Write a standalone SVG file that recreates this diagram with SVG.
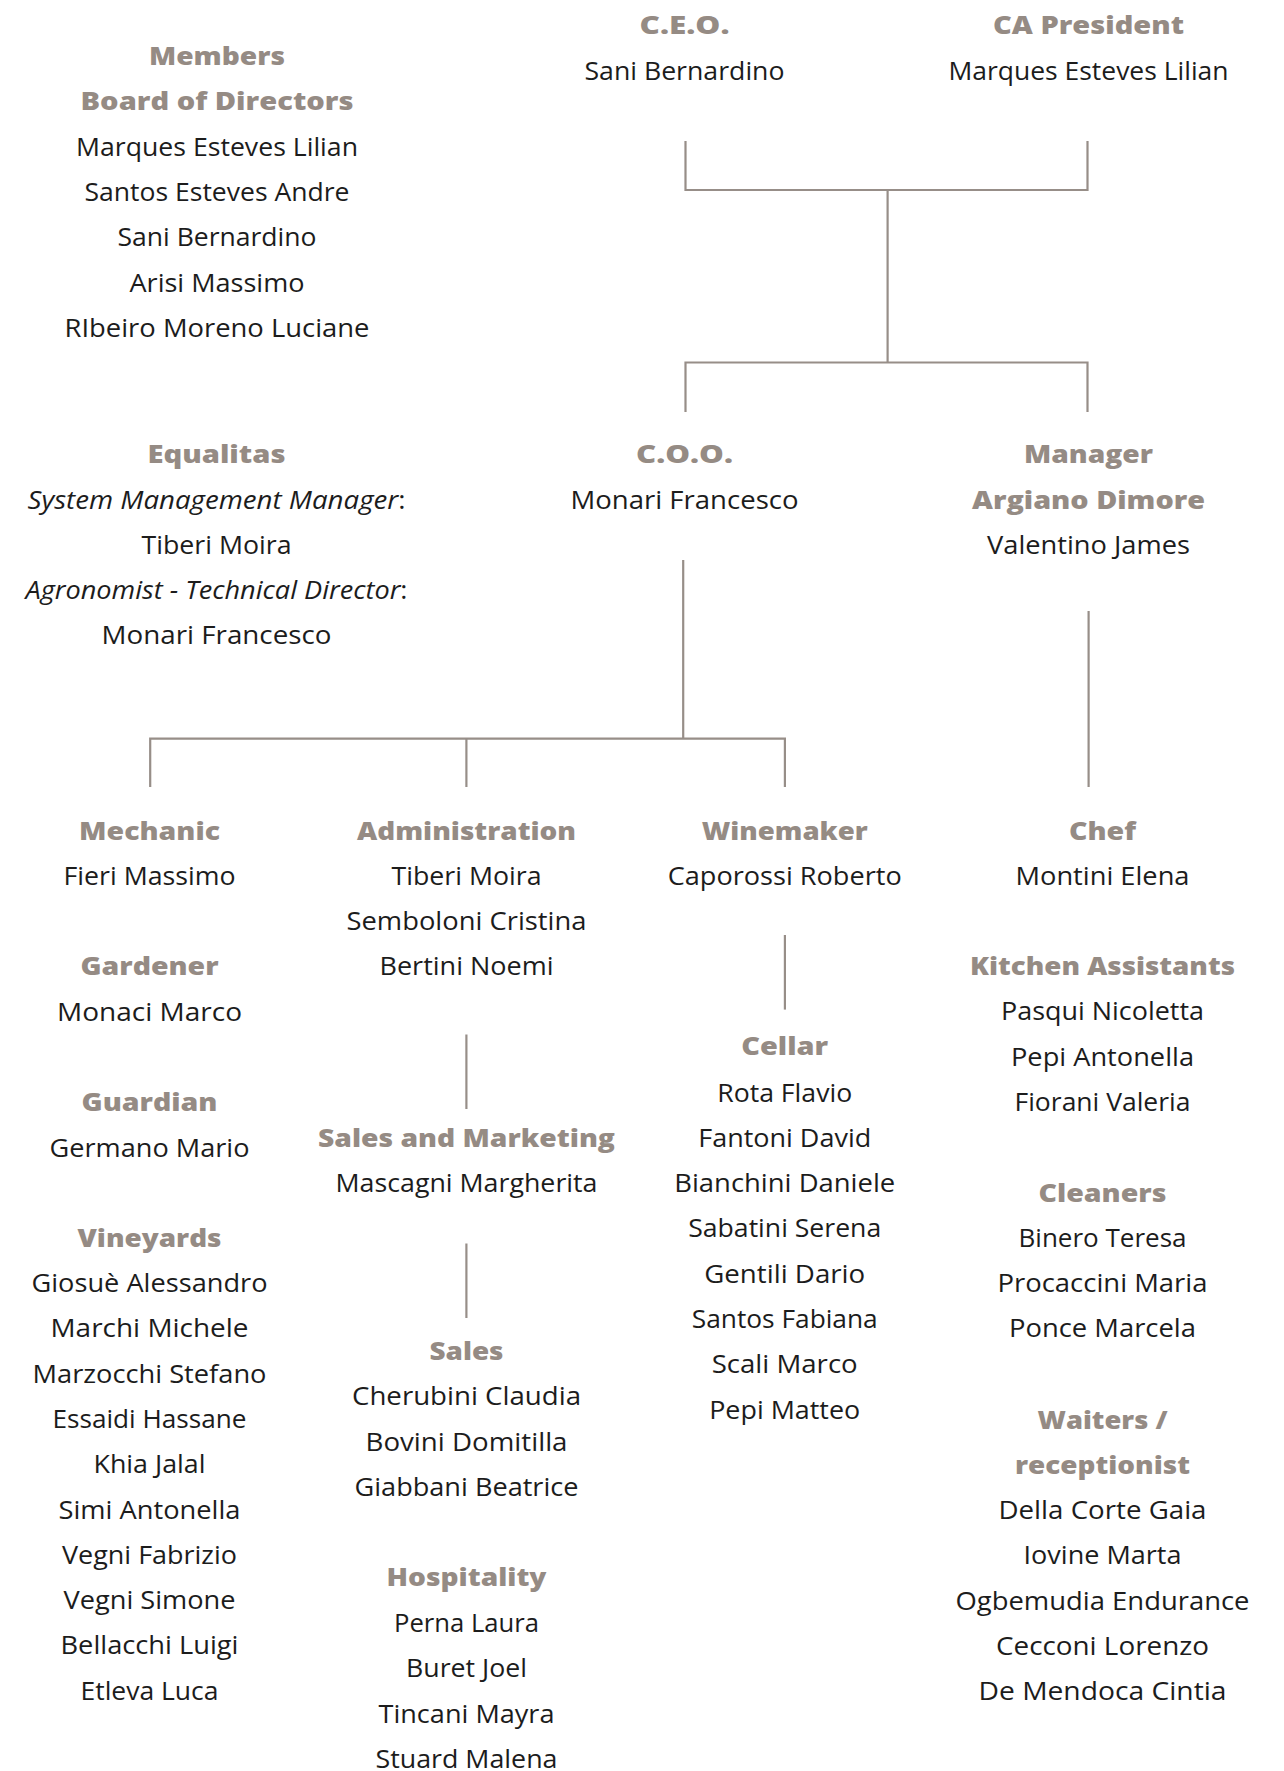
<svg xmlns="http://www.w3.org/2000/svg" width="1284" height="1771" viewBox="0 0 1284 1771">
<style>
.t{font-family:"Open Sans","Liberation Sans",sans-serif;font-size:25.5px;font-weight:800;fill:#958b84;text-anchor:middle}
.n{font-family:"Open Sans","Liberation Sans",sans-serif;font-size:25px;font-weight:400;fill:#1c1c1c;text-anchor:middle}
.i{font-style:italic}
.c{stroke:#978e88;stroke-width:2.2;fill:none}
</style>
<rect width="1284" height="1771" fill="#ffffff"/>
<g id="connectors" class="c">
<path d="M685.5,141V190H1087.5V141"/>
<path d="M887.6,190V362.5"/>
<path d="M685.5,412V362.5H1087.5V412"/>
<path d="M683.2,560V738.6"/>
<path d="M150.2,787V738.6H784.9V787"/>
<path d="M466.4,738.6V787"/>
<path d="M1088.6,611V787"/>
<path d="M466.4,1034.5V1109"/>
<path d="M466.4,1243.5V1318"/>
<path d="M784.9,935V1009.6"/>
</g>
<g id="board" transform="translate(217,0)">
<text class="t" x="0" y="65" textLength="136" lengthAdjust="spacingAndGlyphs">Members</text>
<text class="t" x="0" y="110" textLength="273" lengthAdjust="spacingAndGlyphs">Board of Directors</text>
<text class="n" x="0" y="156" textLength="282" lengthAdjust="spacingAndGlyphs">Marques Esteves Lilian</text>
<text class="n" x="0" y="201" textLength="265" lengthAdjust="spacingAndGlyphs">Santos Esteves Andre</text>
<text class="n" x="0" y="246" textLength="199" lengthAdjust="spacingAndGlyphs">Sani Bernardino</text>
<text class="n" x="0" y="291.5" textLength="175" lengthAdjust="spacingAndGlyphs">Arisi Massimo</text>
<text class="n" x="0" y="336.5" textLength="305" lengthAdjust="spacingAndGlyphs">RIbeiro Moreno Luciane</text>
</g>
<g id="ceo" transform="translate(684.5,0)">
<text class="t" x="0" y="34" textLength="90" lengthAdjust="spacingAndGlyphs">C.E.O.</text>
<text class="n" x="0" y="80" textLength="200" lengthAdjust="spacingAndGlyphs">Sani Bernardino</text>
</g>
<g id="ca-president" transform="translate(1088.5,0)">
<text class="t" x="0" y="33.5" textLength="191" lengthAdjust="spacingAndGlyphs">CA President</text>
<text class="n" x="0" y="80" textLength="280" lengthAdjust="spacingAndGlyphs">Marques Esteves Lilian</text>
</g>
<g id="equalitas" transform="translate(216.5,0)">
<text class="t" x="0" y="463" textLength="138" lengthAdjust="spacingAndGlyphs">Equalitas</text>
<text class="n" x="0" y="508.5" textLength="378" lengthAdjust="spacingAndGlyphs"><tspan class="i">System Management Manager</tspan>:</text>
<text class="n" x="0" y="553.5" textLength="150" lengthAdjust="spacingAndGlyphs">Tiberi Moira</text>
<text class="n" x="0" y="599" textLength="382" lengthAdjust="spacingAndGlyphs"><tspan class="i">Agronomist - Technical Director</tspan>:</text>
<text class="n" x="0" y="644" textLength="230" lengthAdjust="spacingAndGlyphs">Monari Francesco</text>
</g>
<g id="coo" transform="translate(684.5,0)">
<text class="t" x="0" y="463" textLength="97" lengthAdjust="spacingAndGlyphs">C.O.O.</text>
<text class="n" x="0" y="509" textLength="228" lengthAdjust="spacingAndGlyphs">Monari Francesco</text>
</g>
<g id="manager" transform="translate(1088.5,0)">
<text class="t" x="0" y="463" textLength="129" lengthAdjust="spacingAndGlyphs">Manager</text>
<text class="t" x="0" y="508.5" textLength="233" lengthAdjust="spacingAndGlyphs">Argiano Dimore</text>
<text class="n" x="0" y="553.5" textLength="203" lengthAdjust="spacingAndGlyphs">Valentino James</text>
</g>
<g id="mechanic" transform="translate(149.5,0)">
<text class="t" x="0" y="840" textLength="141" lengthAdjust="spacingAndGlyphs">Mechanic</text>
<text class="n" x="0" y="885" textLength="172" lengthAdjust="spacingAndGlyphs">Fieri Massimo</text>
</g>
<g id="gardener" transform="translate(149.5,0)">
<text class="t" x="0" y="974.5" textLength="138" lengthAdjust="spacingAndGlyphs">Gardener</text>
<text class="n" x="0" y="1021" textLength="185" lengthAdjust="spacingAndGlyphs">Monaci Marco</text>
</g>
<g id="guardian" transform="translate(149.5,0)">
<text class="t" x="0" y="1111" textLength="136" lengthAdjust="spacingAndGlyphs">Guardian</text>
<text class="n" x="0" y="1157" textLength="200" lengthAdjust="spacingAndGlyphs">Germano Mario</text>
</g>
<g id="vineyards" transform="translate(149.5,0)">
<text class="t" x="0" y="1246.5" textLength="144" lengthAdjust="spacingAndGlyphs">Vineyards</text>
<text class="n" x="0" y="1292" textLength="236" lengthAdjust="spacingAndGlyphs">Giosuè Alessandro</text>
<text class="n" x="0" y="1337.3" textLength="198" lengthAdjust="spacingAndGlyphs">Marchi Michele</text>
<text class="n" x="0" y="1382.6" textLength="234" lengthAdjust="spacingAndGlyphs">Marzocchi Stefano</text>
<text class="n" x="0" y="1427.9" textLength="194" lengthAdjust="spacingAndGlyphs">Essaidi Hassane</text>
<text class="n" x="0" y="1473.2" textLength="112" lengthAdjust="spacingAndGlyphs">Khia Jalal</text>
<text class="n" x="0" y="1518.5" textLength="182" lengthAdjust="spacingAndGlyphs">Simi Antonella</text>
<text class="n" x="0" y="1563.8" textLength="175" lengthAdjust="spacingAndGlyphs">Vegni Fabrizio</text>
<text class="n" x="0" y="1609.1" textLength="172" lengthAdjust="spacingAndGlyphs">Vegni Simone</text>
<text class="n" x="0" y="1654.4" textLength="178" lengthAdjust="spacingAndGlyphs">Bellacchi Luigi</text>
<text class="n" x="0" y="1699.7" textLength="138" lengthAdjust="spacingAndGlyphs">Etleva Luca</text>
</g>
<g id="administration" transform="translate(466.5,0)">
<text class="t" x="0" y="840" textLength="219" lengthAdjust="spacingAndGlyphs">Administration</text>
<text class="n" x="0" y="885" textLength="150" lengthAdjust="spacingAndGlyphs">Tiberi Moira</text>
<text class="n" x="0" y="930" textLength="240" lengthAdjust="spacingAndGlyphs">Semboloni Cristina</text>
<text class="n" x="0" y="975" textLength="174" lengthAdjust="spacingAndGlyphs">Bertini Noemi</text>
</g>
<g id="sales-marketing" transform="translate(466.5,0)">
<text class="t" x="0" y="1146.5" textLength="297" lengthAdjust="spacingAndGlyphs">Sales and Marketing</text>
<text class="n" x="0" y="1191.5" textLength="262" lengthAdjust="spacingAndGlyphs">Mascagni Margherita</text>
</g>
<g id="sales" transform="translate(466.5,0)">
<text class="t" x="0" y="1360" textLength="74" lengthAdjust="spacingAndGlyphs">Sales</text>
<text class="n" x="0" y="1405" textLength="229" lengthAdjust="spacingAndGlyphs">Cherubini Claudia</text>
<text class="n" x="0" y="1450.5" textLength="202" lengthAdjust="spacingAndGlyphs">Bovini Domitilla</text>
<text class="n" x="0" y="1496" textLength="224" lengthAdjust="spacingAndGlyphs">Giabbani Beatrice</text>
</g>
<g id="hospitality" transform="translate(466.5,0)">
<text class="t" x="0" y="1585.5" textLength="160" lengthAdjust="spacingAndGlyphs">Hospitality</text>
<text class="n" x="0" y="1632" textLength="145" lengthAdjust="spacingAndGlyphs">Perna Laura</text>
<text class="n" x="0" y="1677.3" textLength="121" lengthAdjust="spacingAndGlyphs">Buret Joel</text>
<text class="n" x="0" y="1722.6" textLength="176" lengthAdjust="spacingAndGlyphs">Tincani Mayra</text>
<text class="n" x="0" y="1768" textLength="182" lengthAdjust="spacingAndGlyphs">Stuard Malena</text>
</g>
<g id="winemaker" transform="translate(784.7,0)">
<text class="t" x="0" y="840" textLength="166" lengthAdjust="spacingAndGlyphs">Winemaker</text>
<text class="n" x="0" y="885" textLength="234" lengthAdjust="spacingAndGlyphs">Caporossi Roberto</text>
</g>
<g id="cellar" transform="translate(784.7,0)">
<text class="t" x="0" y="1055" textLength="87" lengthAdjust="spacingAndGlyphs">Cellar</text>
<text class="n" x="0" y="1101.5" textLength="135" lengthAdjust="spacingAndGlyphs">Rota Flavio</text>
<text class="n" x="0" y="1146.8" textLength="173" lengthAdjust="spacingAndGlyphs">Fantoni David</text>
<text class="n" x="0" y="1192.1" textLength="221" lengthAdjust="spacingAndGlyphs">Bianchini Daniele</text>
<text class="n" x="0" y="1237.4" textLength="193" lengthAdjust="spacingAndGlyphs">Sabatini Serena</text>
<text class="n" x="0" y="1282.7" textLength="161" lengthAdjust="spacingAndGlyphs">Gentili Dario</text>
<text class="n" x="0" y="1328" textLength="186" lengthAdjust="spacingAndGlyphs">Santos Fabiana</text>
<text class="n" x="0" y="1373.3" textLength="146" lengthAdjust="spacingAndGlyphs">Scali Marco</text>
<text class="n" x="0" y="1418.6" textLength="151" lengthAdjust="spacingAndGlyphs">Pepi Matteo</text>
</g>
<g id="chef" transform="translate(1102.5,0)">
<text class="t" x="0" y="840" textLength="67" lengthAdjust="spacingAndGlyphs">Chef</text>
<text class="n" x="0" y="885" textLength="174" lengthAdjust="spacingAndGlyphs">Montini Elena</text>
</g>
<g id="kitchen-assistants" transform="translate(1102.5,0)">
<text class="t" x="0" y="974.5" textLength="265" lengthAdjust="spacingAndGlyphs">Kitchen Assistants</text>
<text class="n" x="0" y="1020" textLength="203" lengthAdjust="spacingAndGlyphs">Pasqui Nicoletta</text>
<text class="n" x="0" y="1065.5" textLength="183" lengthAdjust="spacingAndGlyphs">Pepi Antonella</text>
<text class="n" x="0" y="1111" textLength="176" lengthAdjust="spacingAndGlyphs">Fiorani Valeria</text>
</g>
<g id="cleaners" transform="translate(1102.5,0)">
<text class="t" x="0" y="1201.5" textLength="128" lengthAdjust="spacingAndGlyphs">Cleaners</text>
<text class="n" x="0" y="1246.5" textLength="168" lengthAdjust="spacingAndGlyphs">Binero Teresa</text>
<text class="n" x="0" y="1291.8" textLength="210" lengthAdjust="spacingAndGlyphs">Procaccini Maria</text>
<text class="n" x="0" y="1337.3" textLength="187" lengthAdjust="spacingAndGlyphs">Ponce Marcela</text>
</g>
<g id="waiters-receptionist" transform="translate(1102.5,0)">
<text class="t" x="0" y="1428.5" textLength="130" lengthAdjust="spacingAndGlyphs">Waiters /</text>
<text class="t" x="0" y="1473.8" textLength="175" lengthAdjust="spacingAndGlyphs">receptionist</text>
<text class="n" x="0" y="1519.1" textLength="208" lengthAdjust="spacingAndGlyphs">Della Corte Gaia</text>
<text class="n" x="0" y="1564.4" textLength="158" lengthAdjust="spacingAndGlyphs">Iovine Marta</text>
<text class="n" x="0" y="1609.7" textLength="294" lengthAdjust="spacingAndGlyphs">Ogbemudia Endurance</text>
<text class="n" x="0" y="1655" textLength="213" lengthAdjust="spacingAndGlyphs">Cecconi Lorenzo</text>
<text class="n" x="0" y="1700.3" textLength="248" lengthAdjust="spacingAndGlyphs">De Mendoca Cintia</text>
</g>
</svg>
